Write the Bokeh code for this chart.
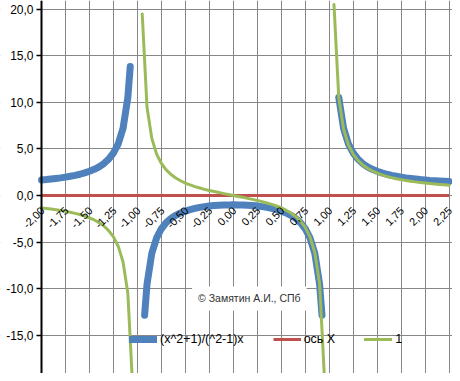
import math
from bokeh.plotting import figure
from bokeh.models import (FixedTicker, Legend, LegendItem, Label, BoxAnnotation)
from bokeh.embed import file_html
from bokeh.resources import INLINE

NAN = float("nan")

# ---- data ----
x_ticks = [-2.0, -1.75, -1.5, -1.25, -1.0, -0.75, -0.5, -0.25, 0.0,
           0.25, 0.5, 0.75, 1.0, 1.25, 1.5, 1.75, 2.0, 2.25]
x_tick_labels = ["-2,00", "-1,75", "-1,50", "-1,25", "-1,00", "-0,75", "-0,50", "-0,25", "0,00",
                 "0,25", "0,50", "0,75", "1,00", "1,25", "1,50", "1,75", "2,00", "2,25"]
y_ticks = [-15.0, -10.0, -5.0, 0.0, 5.0, 10.0, 15.0, 20.0]
y_tick_labels = ["-15,0", "-10,0", "-5,0", "0,0", "5,0", "10,0", "15,0", "20,0"]

# series "(x^2+1)/(^2-1)x" (three branches)
blue_x_left = [-2.0, -1.95, -1.9, -1.85, -1.8, -1.75, -1.7, -1.65, -1.6, -1.55, -1.5,
               -1.45, -1.4, -1.35, -1.3, -1.25, -1.2, -1.15, -1.1, -1.075]
blue_y_left = [1.67, 1.71, 1.77, 1.83, 1.89, 1.97, 2.06, 2.16, 2.28, 2.43, 2.60,
               2.81, 3.08, 3.43, 3.90, 4.56, 5.55, 7.20, 10.52, 13.85]
blue_x_mid = [-0.925, -0.9, -0.85, -0.8, -0.75, -0.7, -0.65, -0.6, -0.55, -0.5, -0.45,
              -0.4, -0.35, -0.3, -0.25, -0.2, -0.15, -0.1, -0.05, 0.0, 0.05, 0.1, 0.15,
              0.2, 0.25, 0.3, 0.35, 0.4, 0.45, 0.5, 0.55, 0.6, 0.65, 0.7, 0.75, 0.8,
              0.85, 0.9, 0.925]
blue_y_mid = [-12.85, -9.53, -6.21, -4.56, -3.57, -2.92, -2.46, -2.13, -1.87, -1.67, -1.51,
              -1.38, -1.28, -1.20, -1.13, -1.08, -1.05, -1.02, -1.01, -1.00, -1.01, -1.02,
              -1.05, -1.08, -1.13, -1.20, -1.28, -1.38, -1.51, -1.67, -1.87, -2.13, -2.46,
              -2.92, -3.57, -4.56, -6.21, -9.53, -12.85]
blue_x_right = [1.1, 1.15, 1.2, 1.25, 1.3, 1.35, 1.4, 1.45, 1.5, 1.55, 1.6, 1.65, 1.7,
                1.75, 1.8, 1.85, 1.9, 1.95, 2.0, 2.05, 2.1, 2.15, 2.2, 2.25]
blue_y_right = [10.52, 7.20, 5.55, 4.56, 3.90, 3.43, 3.08, 2.81, 2.60, 2.43, 2.28, 2.16,
                2.06, 1.97, 1.89, 1.83, 1.77, 1.71, 1.67, 1.62, 1.59, 1.55, 1.52, 1.49]

# series "ось X"
axis_x = [-2.0, 2.25]
axis_y = [0.0, 0.0]

# series "1" (three branches)
green_x_left = [-2.0, -1.95, -1.9, -1.85, -1.8, -1.75, -1.7, -1.65, -1.6, -1.55, -1.5,
                -1.45, -1.4, -1.35, -1.3, -1.25, -1.2, -1.15, -1.1, -1.05]
green_y_left = [-1.33, -1.39, -1.46, -1.53, -1.61, -1.70, -1.80, -1.92, -2.05, -2.21, -2.40,
                -2.63, -2.92, -3.28, -3.77, -4.44, -5.45, -7.13, -10.48, -20.49]
green_x_mid = [-0.95, -0.9, -0.85, -0.8, -0.75, -0.7, -0.65, -0.6, -0.55, -0.5, -0.45,
               -0.4, -0.35, -0.3, -0.25, -0.2, -0.15, -0.1, -0.05, 0.0, 0.05, 0.1, 0.15,
               0.2, 0.25, 0.3, 0.35, 0.4, 0.45, 0.5, 0.55, 0.6, 0.65, 0.7, 0.75, 0.8,
               0.85, 0.9, 0.95]
green_y_mid = [19.49, 9.47, 6.13, 4.44, 3.43, 2.75, 2.25, 1.88, 1.58, 1.33, 1.13,
               0.95, 0.80, 0.66, 0.53, 0.42, 0.31, 0.20, 0.10, 0.00, -0.10, -0.20, -0.31,
               -0.42, -0.53, -0.66, -0.80, -0.95, -1.13, -1.33, -1.58, -1.88, -2.25,
               -2.75, -3.43, -4.44, -6.13, -9.47, -19.49]
green_x_right = [1.05, 1.1, 1.15, 1.2, 1.25, 1.3, 1.35, 1.4, 1.45, 1.5, 1.55, 1.6, 1.65,
                 1.7, 1.75, 1.8, 1.85, 1.9, 1.95, 2.0, 2.05, 2.1, 2.15, 2.2, 2.25]
green_y_right = [20.49, 10.48, 7.13, 5.45, 4.44, 3.77, 3.28, 2.92, 2.63, 2.40, 2.21, 2.05,
                 1.92, 1.80, 1.70, 1.61, 1.53, 1.46, 1.39, 1.33, 1.28, 1.23, 1.19, 1.15, 1.11]

series_names = ["(x^2+1)/(^2-1)x", "ось X", "1"]
watermark = "© Замятин А.И., СПб"

X_MIN = x_ticks[0]

# ---- figure ----
p = figure(width=452, height=373, x_range=(-2.428, 2.286), y_range=(-19.11, 20.93),
           output_backend="svg", toolbar_location=None,
           min_border_left=0, min_border_right=0, min_border_top=0, min_border_bottom=0)
p.outline_line_color = None
p.background_fill_color = "white"

FONT = "Liberation Sans"

# grid
p.xgrid.ticker = FixedTicker(ticks=x_ticks)
p.ygrid.ticker = FixedTicker(ticks=y_ticks)
for g in (p.xgrid, p.ygrid):
    g.grid_line_color = "#878787"
    g.grid_line_width = 1

# blank strip left of the value axis (hides grid there)
p.add_layout(BoxAnnotation(right=X_MIN, fill_color="white", fill_alpha=1.0,
                           line_color=None, level="underlay"))

# y axis placed at x = -2.00
ya = p.yaxis[0]
ya.fixed_location = X_MIN
ya.ticker = FixedTicker(ticks=y_ticks)
ya.major_label_overrides = dict(zip(y_ticks, y_tick_labels))
ya.axis_line_color = "black"
ya.axis_line_width = 2
ya.major_tick_out = 5
ya.major_tick_in = 0
ya.major_tick_line_color = "black"
ya.major_tick_line_width = 1.5
ya.minor_tick_line_color = None
ya.major_label_text_font = FONT
ya.major_label_text_font_size = "12px"
ya.major_label_text_color = "black"
ya.major_label_standoff = 3

# x axis crosses at y = 0 : its labels are drawn as rotated labels at the axis
xa = p.xaxis[0]
xa.fixed_location = 0
xa.visible = False

blue_x = blue_x_left + [NAN] + blue_x_mid + [NAN] + blue_x_right
blue_y = blue_y_left + [NAN] + blue_y_mid + [NAN] + blue_y_right
green_x = green_x_left + [NAN] + green_x_mid + [NAN] + green_x_right
green_y = green_y_left + [NAN] + green_y_mid + [NAN] + green_y_right

r_blue = p.line(blue_x, blue_y, line_color="#4F81BD", line_width=7,
                line_cap="round", line_join="round")
r_red = p.line(axis_x, axis_y, line_color="#C0504D", line_width=3)
r_green = p.line(green_x, green_y, line_color="#9BBB59", line_width=3,
                 line_cap="round", line_join="round")

for xv, txt in zip(x_ticks, x_tick_labels):
    p.add_layout(Label(x=xv, y=0.0, text=txt, angle=math.pi / 4,
                       text_align="right", text_baseline="middle", x_offset=1, y_offset=-13,
                       text_font=FONT, text_font_size="11px", text_color="black"))

wm = Label(x=-0.43, y=-11.05, text=watermark, text_font=FONT, text_font_size="10.5px",
           text_color="#333333", text_baseline="middle", text_align="left",
           background_fill_color="white", background_fill_alpha=1.0,
           padding=6)
p.add_layout(wm)

legend = Legend(items=[LegendItem(label=series_names[0], renderers=[r_blue]),
                       LegendItem(label=series_names[1], renderers=[r_red]),
                       LegendItem(label=series_names[2], renderers=[r_green])],
                orientation="horizontal", location=(129, 24),
                glyph_width=28, glyph_height=20, label_standoff=3, spacing=29,
                padding=0, margin=0, label_text_font=FONT, label_text_font_size="12.5px",
                label_text_color="black", background_fill_alpha=0, border_line_alpha=0)
p.add_layout(legend)

open("out.html", "w").write(file_html(p, INLINE))
